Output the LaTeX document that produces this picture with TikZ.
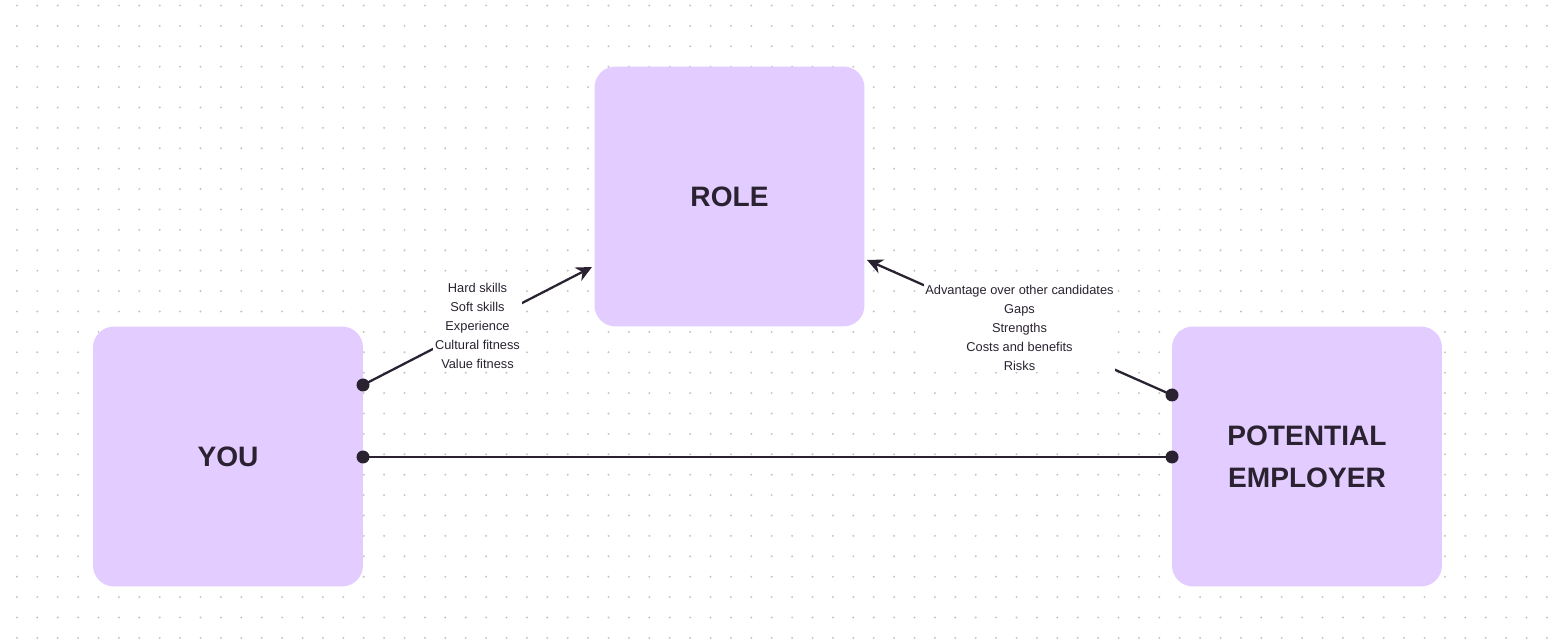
\documentclass[tikz,border=0pt]{standalone}
\usepackage{fontspec}
\setmainfont{Liberation Sans}
\usetikzlibrary{arrows.meta}
\definecolor{boxfill}{HTML}{E3CCFF}
\definecolor{ink}{HTML}{2A2230}
\definecolor{griddot}{HTML}{C4C4C4}
\begin{document}
\begin{tikzpicture}[x=0.02cm, y=-0.02cm,
    box/.style={fill=boxfill, rounded corners=0.42cm, minimum width=5.4cm, minimum height=5.2cm, text=ink, font=\fontsize{16}{20}\selectfont\bfseries, align=center},
    note/.style={fill=white, inner sep=1pt, font=\fontsize{7.3}{10.8}\selectfont, align=center, text=ink},
    link/.style={line width=1.3pt, draw=ink},
    end/.style={fill=ink},
    >={Stealth[length=9pt,width=8.5pt]}]
  \useasboundingbox (0,0) rectangle (1549,641);
  % dotted background
  \foreach \i in {0,...,75}
    \foreach \j in {0,...,31}
      \fill[griddot] (16.9+\i*20.4, 5.5+\j*20.4) circle (0.022cm);
  \node[box] (role) at (729.5,196.5) {ROLE};
  \node[box] (you) at (228,456.5) {YOU};
  \node[box] (employer) at (1307,456.5) {POTENTIAL\\[4pt]EMPLOYER};
  \coordinate (youtop) at (363,385);
  \coordinate (youmid) at (363,457);
  \coordinate (emptop) at (1172,395);
  \coordinate (empmid) at (1172,457);
  \coordinate (roleleft) at (592,267);
  \coordinate (roleright) at (867,260);
  \draw[link, ->] (youtop) -- (roleleft)
    node[note, pos=0.5] {Hard skills\\Soft skills\\Experience\\Cultural fitness\\Value fitness};
  \draw[link, ->] (emptop) -- (roleright)
    node[note, pos=0.5] {Advantage over other candidates\\Gaps\\Strengths\\Costs and benefits\\Risks};
  \draw[link] (youmid) -- (empmid);
  \foreach \p in {youtop,youmid,emptop,empmid}
    \fill[end] (\p) circle (0.13cm);
\end{tikzpicture}
\end{document}
